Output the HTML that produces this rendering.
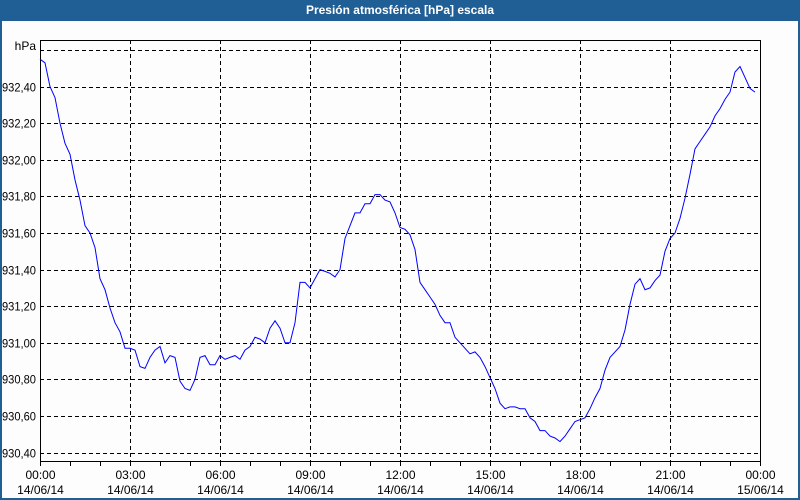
<!DOCTYPE html>
<html><head><meta charset="utf-8"><style>
html,body{margin:0;padding:0;}
body{width:800px;height:500px;overflow:hidden;background:#fdfdfd;font-family:"Liberation Sans",sans-serif;}
#frame{position:absolute;left:0;top:0;width:796px;height:498px;border:2px solid #1f5f96;border-top:none;}
#title{position:absolute;left:0;top:0;width:800px;height:21px;background:#1f5f96;color:#fff;font-weight:bold;font-size:12px;text-align:center;line-height:21px;}
svg{position:absolute;left:0;top:0;}
</style></head><body>
<div id="frame"></div>
<div id="title">Presión atmosférica [hPa] escala</div>
<svg id="chart" width="800" height="500"></svg>
<script>
const startMinute = 0;
const stepMinutes = 10;
const pressureValues = [932.55,932.53,932.40,932.34,932.20,932.09,932.03,931.89,931.78,931.64,931.60,931.52,931.35,931.29,931.19,931.11,931.06,930.97,930.97,930.96,930.87,930.86,930.92,930.96,930.98,930.89,930.93,930.92,930.79,930.75,930.74,930.80,930.92,930.93,930.88,930.88,930.93,930.91,930.92,930.93,930.91,930.96,930.98,931.03,931.02,931.00,931.08,931.12,931.08,931.00,931.00,931.11,931.33,931.33,931.30,931.35,931.40,931.39,931.38,931.36,931.40,931.57,931.64,931.71,931.71,931.76,931.76,931.81,931.81,931.78,931.77,931.71,931.63,931.62,931.59,931.51,931.33,931.29,931.25,931.21,931.15,931.11,931.11,931.03,931.00,930.97,930.94,930.95,930.92,930.87,930.81,930.75,930.67,930.64,930.65,930.65,930.64,930.64,930.59,930.57,930.52,930.52,930.49,930.48,930.46,930.49,930.53,930.57,930.58,930.59,930.64,930.70,930.75,930.85,930.92,930.95,930.98,931.07,931.21,931.32,931.35,931.29,931.30,931.34,931.37,931.50,931.57,931.60,931.68,931.79,931.92,932.06,932.10,932.14,932.18,932.24,932.28,932.33,932.37,932.48,932.51,932.45,932.39,932.37];
const yTicks = [930.40,930.60,930.80,931.00,931.20,931.40,931.60,931.80,932.00,932.20,932.40,932.60];
const yTickLabels = ["930,40","930,60","930,80","931,00","931,20","931,40","931,60","931,80","932,00","932,20","932,40",""];
const xTickHours = [0,3,6,9,12,15,18,21,24];
const xTimeLabels = ["00:00","03:00","06:00","09:00","12:00","15:00","18:00","21:00","00:00"];
const xDateLabels = ["14/06/14","14/06/14","14/06/14","14/06/14","14/06/14","14/06/14","14/06/14","14/06/14","15/06/14"];

const L=40,R=760,T=40,B=461;
const yMin=930.40,yMax=932.60,yMinPx=452.6,yMaxPx=50;
function xScale(min){return L+(min/1440)*(R-L);}
function yScale(v){return yMinPx+(v-yMin)/(yMax-yMin)*(yMaxPx-yMinPx);}
const NS="http://www.w3.org/2000/svg";
const svg=document.getElementById('chart');
function mk(tag,attrs){const e=document.createElementNS(NS,tag);for(const k in attrs)e.setAttribute(k,attrs[k]);svg.appendChild(e);return e;}

mk('rect',{x:L+0.5,y:T+0.5,width:R-L,height:B-T,fill:'#fdfdfd',stroke:'none'});
yTicks.forEach((v,i)=>{
  const y=Math.round(yScale(v))+0.5;
  const g=mk('line',{x1:L,x2:R,y1:y,y2:y,stroke:'#000','stroke-dasharray':'4,3','stroke-width':1});
  
  
  if(yTickLabels[i]){
    const t=mk('text',{x:2,y:y+4,'font-size':11.5,fill:'#000',textLength:34,lengthAdjust:'spacingAndGlyphs'});
    t.textContent=yTickLabels[i];
    
    
  }
});
const u=mk('text',{x:36,y:50,'text-anchor':'end','font-size':12,fill:'#000'});
u.textContent='hPa';


for(let h=0;h<=24;h++){
  const x=Math.round(xScale(h*60))+0.5;
  const tk=mk('line',{x1:x,x2:x,y1:B,y2:B+5,stroke:'#000'});
  
  
}
xTickHours.forEach((h,i)=>{
  const x=Math.round(xScale(h*60))+0.5;
  if(h>0&&h<24){
    const g=mk('line',{x1:x,x2:x,y1:T,y2:B+6,stroke:'#000','stroke-dasharray':'4,3'});
    
    
  }
  const t1=mk('text',{x:x,y:479,'text-anchor':'middle','font-size':12,fill:'#000'});
  t1.textContent=xTimeLabels[i];
  
  
  const t2=mk('text',{x:x,y:494,'text-anchor':'middle','font-size':12,fill:'#000'});
  t2.textContent=xDateLabels[i];
  
  
});
const ax=mk('polyline',{points:`${L+0.5},${T} ${L+0.5},${B+0.5} ${R+0.5},${B+0.5} ${R+0.5},${T}`,fill:'none',stroke:'#000'});


const tb=mk('line',{x1:L,x2:R+1,y1:T+0.5,y2:T+0.5,stroke:'#000'});


const pts=pressureValues.map((v,i)=>xScale(startMinute+i*stepMinutes).toFixed(1)+','+yScale(v).toFixed(1)).join(' ');
const line=mk('polyline',{points:pts,fill:'none',stroke:'#0000ff','stroke-width':1});


</script>
</body></html>
